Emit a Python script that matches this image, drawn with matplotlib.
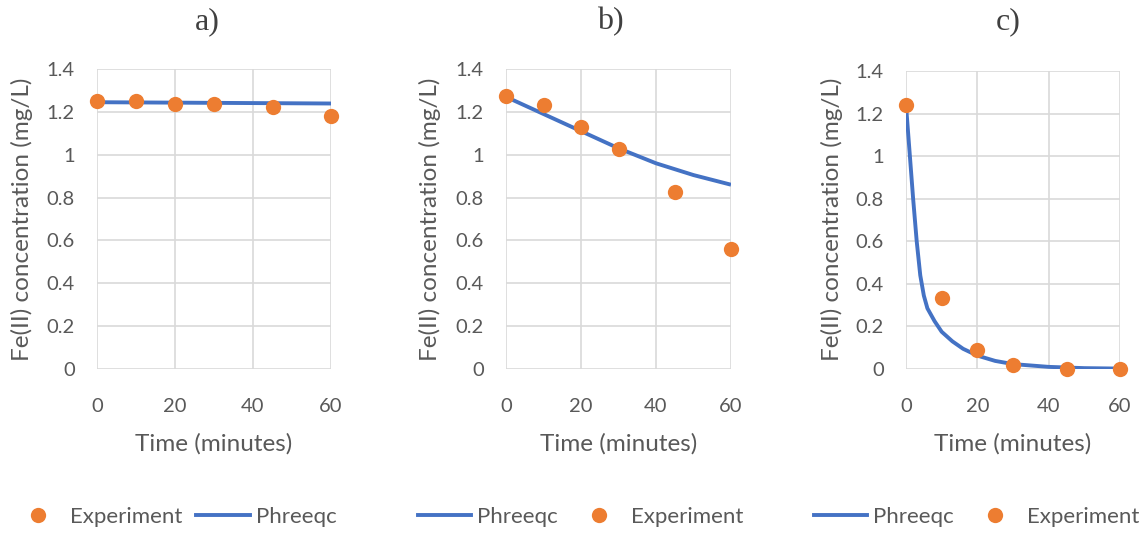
import numpy as np
import matplotlib
matplotlib.use("Agg")
import matplotlib.pyplot as plt
from matplotlib.lines import Line2D

# experiment sampling times (minutes)
t_exp = [0, 10, 20, 30, 45, 60]

# a) measured and modelled Fe(II)
exp_a = [1.25, 1.25, 1.235, 1.235, 1.225, 1.18]
t_mod_a = [0, 10, 20, 30, 40, 50, 60]
mod_a = [1.245, 1.244, 1.243, 1.242, 1.241, 1.240, 1.239]

# b)
exp_b = [1.275, 1.23, 1.13, 1.025, 0.825, 0.56]
t_mod_b = [0, 10, 20, 30, 40, 50, 60]
mod_b = [1.27, 1.19, 1.11, 1.03, 0.96, 0.905, 0.86]

# c)
exp_c = [1.24, 0.335, 0.087, 0.017, 0.0, 0.0]
t_mod_c = [0, 1, 2, 3, 4, 5, 6, 8, 10, 13, 16, 20, 25, 30, 40, 50, 60]
mod_c = [1.24, 1.02, 0.80, 0.60, 0.44, 0.345, 0.285, 0.225, 0.175, 0.13,
         0.095, 0.063, 0.038, 0.023, 0.01, 0.004, 0.002]

panel_titles = ["a)", "b)", "c)"]
x_ticks = [0, 20, 40, 60]
y_ticks = [0, 0.2, 0.4, 0.6, 0.8, 1.0, 1.2, 1.4]
y_tick_labels = ["0", "0.2", "0.4", "0.6", "0.8", "1", "1.2", "1.4"]

ORANGE = "#ED7D31"
BLUE = "#4472C4"
GRID = "#D9D9D9"
TXT = "#595959"

plt.rcParams["font.family"] = ["Lato", "DejaVu Sans"]

W, H = 1143, 533
fig = plt.figure(figsize=(W / 100, H / 100), dpi=100)

def px_axes(x0, x1, y0, y1):
    return fig.add_axes([x0 / W, 1 - y1 / H, (x1 - x0) / W, (y1 - y0) / H])

boxes = [(97, 331, 69, 369), (506, 731, 69, 369), (906, 1120, 71, 369)]
ylabel_x = [22, 430, 832]
title_x = [207, 610, 1008]
legend_left = [11, 418, 814]

series = [
    (exp_a, t_mod_a, mod_a, "exp_first"),
    (exp_b, t_mod_b, mod_b, "mod_first"),
    (exp_c, t_mod_c, mod_c, "mod_first"),
]

for i, (box, (ey, tm, my, order)) in enumerate(zip(boxes, series)):
    ax = px_axes(*box)
    ax.set_xlim(0, 60)
    ax.set_ylim(0, 1.4)
    ax.set_xticks(x_ticks)
    ax.set_yticks(y_ticks)
    ax.set_yticklabels(y_tick_labels)
    ax.tick_params(length=0, labelsize=14.5, labelcolor=TXT)
    ax.tick_params(axis="x", pad=21)
    ax.tick_params(axis="y", pad=16)
    for s in ax.spines.values():
        s.set_visible(False)
    ax.grid(True, color=GRID, lw=1.2)
    ax.set_axisbelow(True)

    ax.plot(tm, my, color=BLUE, lw=2.8, solid_capstyle="butt", zorder=3)
    ax.plot(t_exp, ey, "o", color=ORANGE, ms=11, mec="none", zorder=4,
            clip_on=False)

    cx = (box[0] + box[1]) / 2
    fig.text(cx / W, 1 - 444 / H, "Time (minutes)", ha="center", va="center",
             fontsize=17.5, color=TXT)
    fig.text(ylabel_x[i] / W, 1 - 219 / H, "Fe(II) concentration (mg/L)",
             rotation=90, ha="center", va="center", fontsize=17.5, color=TXT)
    fig.text(title_x[i] / W, 1 - 22 / H, panel_titles[i], ha="center",
             va="center", fontsize=23, color="#404040",
             family="Liberation Serif")

    h_exp = Line2D([], [], ls="none", marker="o", ms=11, color=ORANGE, mec="none")
    h_mod = Line2D([], [], color=BLUE, lw=2.8)
    if order == "exp_first":
        handles, labels = [h_exp, h_mod], ["Experiment", "Phreeqc"]
    else:
        handles, labels = [h_mod, h_exp], ["Phreeqc", "Experiment"]
    fig.legend(handles, labels, loc="center left", ncol=2,
               bbox_to_anchor=(legend_left[i] / W, 1 - 517 / H), frameon=False,
               fontsize=16, labelcolor=TXT, handlelength=2.4,
               handletextpad=0.27, columnspacing=0.62, borderpad=0,
               borderaxespad=0)

fig.savefig("out.png", dpi=100, facecolor="white")
